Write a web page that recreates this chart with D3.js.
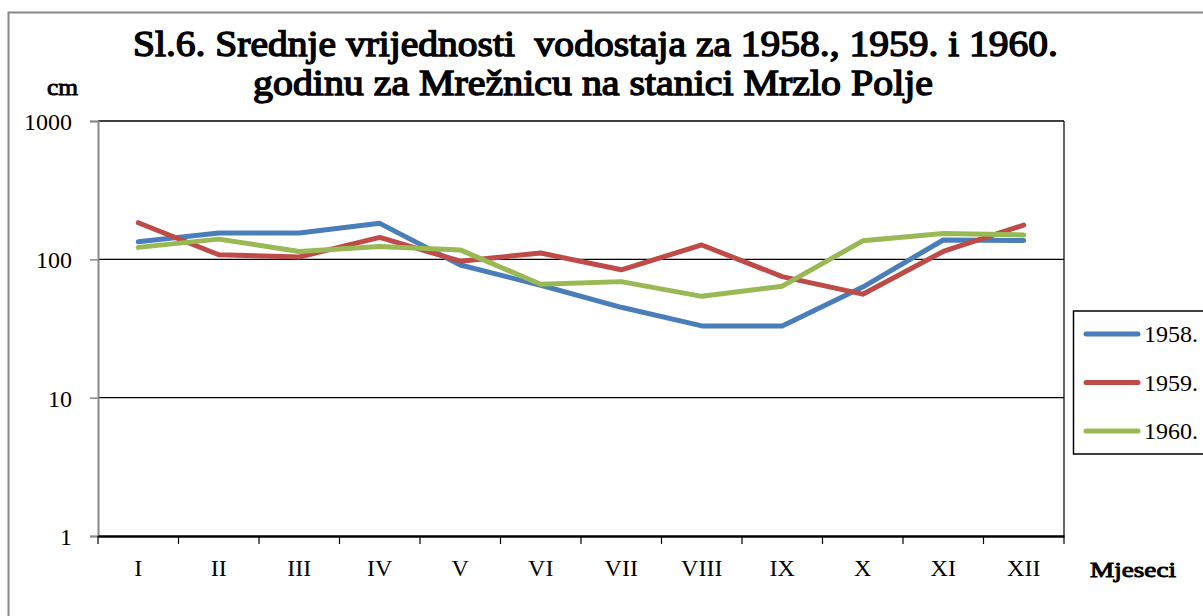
<!DOCTYPE html>
<html><head><meta charset="utf-8">
<script src="https://cdn.jsdelivr.net/npm/d3@7"></script>
<style>body{margin:0;background:#fff}svg{display:block}</style>
</head><body>
<script>
const months = ["I","II","III","IV","V","VI","VII","VIII","IX","X","XI","XII"];
const s1958 = [134,155,155,182,91,65,45,33,33,63,138,137];
const s1959 = [184,108,104,144,97,111,84,127,75,56,114,177];
const s1960 = [122,140,114,124,117,66,69,54,64,136,154,150];
const seriesNames = ["1958.","1959.","1960."];
const seriesColors = ["#4a7ebb","#be4b48","#98b954"];
const yTicks = [1,10,100,1000];

const W=1203,H=616;
const svg=d3.select("body").append("svg").attr("width",W).attr("height",H);
svg.append("rect").attr("x",8.5).attr("y",12.5).attr("width",1300).attr("height",700)
  .attr("fill","#fff").attr("stroke","#888").attr("stroke-width",2);

const L=98,R=1064,T=121,B=536;
const x=d3.scaleBand().domain(months).range([L,R]).padding(0);
const y=d3.scaleLog().domain([1,1000]).range([B,T]);
const serif="Liberation Serif, Times New Roman, serif";

svg.append("g").selectAll("line").data(yTicks.slice(1)).join("line")
  .attr("x1",L).attr("x2",R).attr("y1",d=>y(d)).attr("y2",d=>y(d))
  .attr("stroke","#000").attr("stroke-width",d=>d===1000?1.5:1.2);
svg.append("line").attr("x1",R).attr("x2",R).attr("y1",T).attr("y2",B).attr("stroke","#000").attr("stroke-width",1.2);

const ya=svg.append("g").attr("transform",`translate(${L},0)`)
  .call(d3.axisLeft(y).tickValues(yTicks).tickFormat(d3.format("d")).tickSize(8).tickPadding(18));
ya.select(".domain").attr("stroke","#888").attr("stroke-width",2);
ya.selectAll(".tick line").attr("stroke","#888").attr("stroke-width",1.5);
ya.selectAll("text").attr("font-family",serif).attr("font-size",24).attr("fill","#000").attr("dy","0.35em");

const xa=svg.append("g").attr("transform",`translate(0,${B})`)
  .call(d3.axisBottom(x).tickSize(0).tickPadding(23));
xa.select(".domain").attr("stroke","#000").attr("stroke-width",2.5);
xa.selectAll("text").attr("font-family",serif).attr("font-size",24).attr("fill","#000");
const bounds=months.map(m=>x(m)).concat([R]);
svg.append("g").selectAll("line").data(bounds).join("line")
  .attr("x1",d=>d).attr("x2",d=>d).attr("y1",B).attr("y2",B+8)
  .attr("stroke","#000").attr("stroke-width",1.2);

const all=[s1958,s1959,s1960];
const line=d3.line().x((d,i)=>x(months[i])+x.bandwidth()/2).y(d=>y(d));
svg.append("g").selectAll("path").data(all).join("path")
  .attr("d",line).attr("fill","none").attr("stroke",(d,i)=>seriesColors[i])
  .attr("stroke-width",5).attr("stroke-linejoin","round").attr("stroke-linecap","round");

function boldText(xp,yp,txt,size,len,sw){
  const t=svg.append("text").attr("x",xp).attr("y",yp)
    .attr("font-family",serif).attr("font-size",size)
    .attr("fill","#000").attr("stroke","#000").attr("stroke-width",sw)
    .style("white-space","pre").text(txt);
  if(len) t.attr("textLength",len).attr("lengthAdjust","spacingAndGlyphs");
  return t;
}
boldText(133,56,"Sl.6. Srednje vrijednosti  vodostaja za 1958., 1959. i 1960.",36,925,1.4);
boldText(253,95,"godinu za Mrežnicu na stanici Mrzlo Polje",36,680,1.4);
boldText(47,95,"cm",24,31,0.9);
boldText(1090,577,"Mjeseci",22,86,0.9);

const lg=svg.append("g");
lg.append("rect").attr("x",1073.5).attr("y",311).attr("width",200).attr("height",143)
  .attr("fill","#fff").attr("stroke","#000").attr("stroke-width",1.5);
const items=lg.selectAll("g").data(seriesNames).join("g")
  .attr("transform",(d,i)=>`translate(0,${334+i*48.5})`);
items.append("line").attr("x1",1086).attr("x2",1138).attr("stroke",(d,i)=>seriesColors[i])
  .attr("stroke-width",5).attr("stroke-linecap","round");
items.append("text").attr("x",1144).attr("y",8).attr("font-family",serif).attr("font-size",24).text(d=>d);
</script>
</body></html>
